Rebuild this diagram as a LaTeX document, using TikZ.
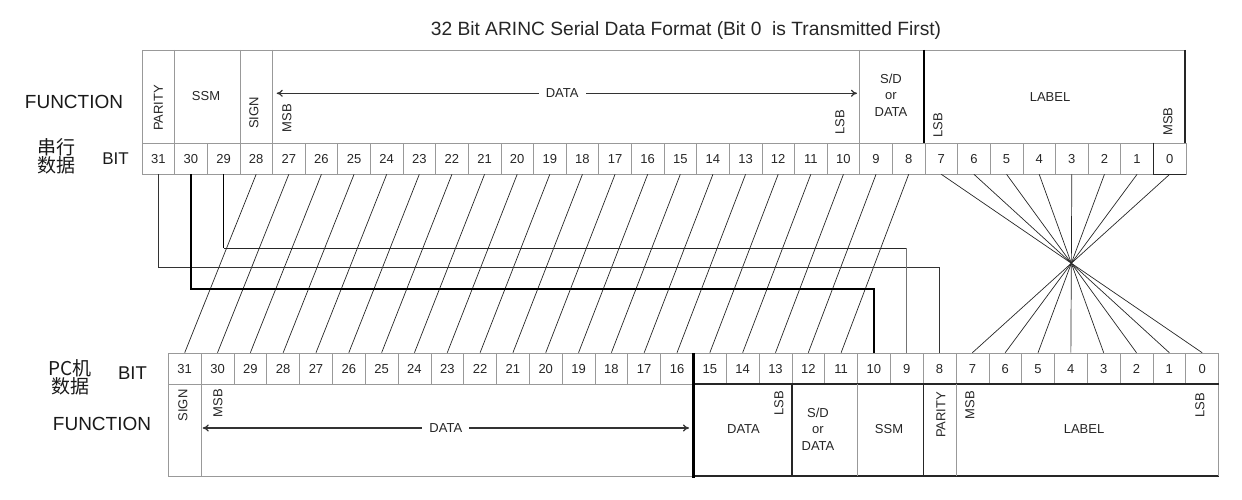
\documentclass[tikz,border=0pt]{standalone}
\usepackage{fontspec}
\setmainfont{Liberation Sans}
\newfontfamily\cjk{Noto Sans CJK SC}
\usetikzlibrary{arrows.meta,calc}
\definecolor{cellgray}{gray}{0.6}
\begin{document}
\begin{tikzpicture}[x=1pt,y=-1pt]
\tikzset{
 cellbox/.style={draw=cellgray, line width=0.6pt, minimum width=32.625pt, minimum height=31pt, inner sep=0pt, font=\fontsize{13}{15}\selectfont, text=black!85, text height=9.4pt, text depth=0pt},
 bcellbox/.style={cellbox, minimum width=32.82pt},
 conn/.style={draw=black!85, line width=0.7pt},
 lab/.style={font=\fontsize{13}{15}\selectfont, text=black!85, inner sep=0pt},
 rlab/.style={lab, rotate=90},
 sidelab/.style={font=\fontsize{19}{21}\selectfont, text=black!90, inner sep=0pt},
 cjklab/.style={font=\cjk\fontsize{19}{18}\selectfont, text=black!90, inner sep=0pt, align=center},
 divg/.style={draw=cellgray, line width=0.7pt},
 divd/.style={draw=black!85, line width=1.2pt},
 dataarrow/.style={draw=black!80, line width=1.2pt, {To[length=6pt,width=7pt]}-{To[length=6pt,width=7pt]}},
 gaplab/.style={lab, fill=white, inner xsep=7pt, inner ysep=2pt},
}
\useasboundingbox (0,0) rectangle (1242,500);

% title
\node[font=\fontsize{19.2}{22}\selectfont, text=black!85] (title) at (686,31) {32 Bit ARINC Serial Data Format (Bit 0\ \ is Transmitted First)};

% side labels
\node[sidelab] (tfunc) at (74,102) {FUNCTION};
\node[cjklab] (tser) at (56,156) {串行\\数据};
\node[sidelab, font=\fontsize{17}{19}\selectfont] (tbit) at (115.5,159) {BIT};
\node[cjklab] (bpc) at (70,377) {PC机\\数据};
\node[sidelab, font=\fontsize{18.5}{20}\selectfont] (bbit) at (132.5,373) {BIT};
\node[sidelab] (bfunc) at (102,424) {FUNCTION};

% bit cells
\foreach \i in {0,...,31} {
  \pgfmathtruncatemacro\k{31-\i}
  \node[cellbox] (t\k) at ({142+(\i+0.5)*32.625},158.5) {\k};
  \node[bcellbox] (b\k) at ({168.3+(\i+0.5)*32.82},368.5) {\k};
}

% top function box
\draw[divg] (142,143) -- (142,50) -- (1185,50);
\draw[divg] (174.6,50) -- (174.6,143);
\draw[divg] (239.9,50) -- (239.9,143);
\draw[divg] (272.5,50) -- (272.5,143);
\draw[divg] (859.7,50) -- (859.7,143);
\draw[draw=black, line width=1.6pt] (924,50) -- (924,143);
\draw[divd] (1185,50) -- (1185,143);
\draw[divd] (t0.south west) -- (t0.south east);
\draw[draw=black!85, line width=0.9pt] (t0.north west) -- (t0.south west);

% top function labels
\node[rlab] (tpar) at (158.3,108) {PARITY};
\node[lab] (tssm) at (206,96) {SSM};
\node[rlab] (tsign) at (254,113) {SIGN};
\node[rlab] (tmsb) at (287,118) {MSB};
\coordinate (tdl) at (276.7,93.3);
\coordinate (tdr) at (857,93.3);
\draw[dataarrow] (tdl) -- (tdr) node[gaplab, pos=0.492] (tdata) {DATA};
\node[rlab] (tlsb) at (840,122.5) {LSB};
\node[lab, align=center, font=\fontsize{13}{16.5}\selectfont] (tsd) at (891,95) {S/D\\or\\DATA};
\node[lab] (tlabel) at (1050,96.7) {LABEL};
\node[rlab] (tllsb) at (938,125.5) {LSB};
\node[rlab] (tlmsb) at (1168,121.7) {MSB};

% bottom function box
\draw[divg] (168.3,384) -- (168.3,476) -- (693.4,476);
\draw[divd] (693.4,476) -- (1218.5,476);
\draw[divg] (1218.5,476) -- (1218.5,384);
\draw[divd, line width=1.4pt] (693.4,384) -- (1218.5,384);
\draw[divg] (201.1,384) -- (201.1,476);
\draw[draw=black, line width=2.4pt] (693.4,353) -- (693.4,478);
\draw[divd] (791.9,384) -- (791.9,476);
\draw[divg] (857.5,384) -- (857.5,476);
\draw[divd] (923.1,384) -- (923.1,476);
\draw[divg] (956,384) -- (956,476);

% bottom function labels
\node[rlab] (bsign) at (183,405.5) {SIGN};
\node[rlab] (bmsb) at (218,403) {MSB};
\coordinate (bdl) at (202.7,428);
\coordinate (bdr) at (689,428);
\draw[dataarrow] (bdl) -- (bdr) node[gaplab, midway] (bdata) {DATA};
\node[lab] (bdata2) at (743.5,429) {DATA};
\node[rlab] (blsb) at (779,403) {LSB};
\node[lab, align=center, font=\fontsize{13}{16.5}\selectfont] (bsd) at (818,429) {S/D\\or\\DATA};
\node[lab] (bssm) at (889,429) {SSM};
\node[rlab] (bpar) at (941,415) {PARITY};
\node[rlab] (blmsb) at (970,405) {MSB};
\node[lab] (blabel) at (1084,429) {LABEL};
\node[rlab] (bllsb) at (1200,405) {LSB};

% slanted data connections
\foreach \k in {8,...,28} {
  \pgfmathtruncatemacro\j{\k+3}
  \draw[conn] (t\k.south) -- (b\j.north);
}
% label reversal
\foreach \k in {0,...,7} {
  \pgfmathtruncatemacro\j{7-\k}
  \draw[conn] (t\k.south) -- (b\j.north);
}

% routed connections
\coordinate (y31) at (0,267.7);
\coordinate (y30) at (0,289);
\coordinate (y29) at (0,248.3);
\draw[draw=black!80, line width=1.1pt] (t31.south) -- (t31.south |- y31) -| (b8.north);
\draw[draw=black, line width=1.5pt] (t30.south) -- (t30.south |- y30) -| (b10.north);
\draw[draw=black, line width=1.4pt] (t29.south) -- (t29.south |- y29);
\draw[draw=black!85, line width=0.7pt] (t29.south |- y29) -- (b9.north |- y29);
\draw[draw=black!55, line width=1.2pt] (b9.north |- y29) -- (b9.north);
\end{tikzpicture}
\end{document}
